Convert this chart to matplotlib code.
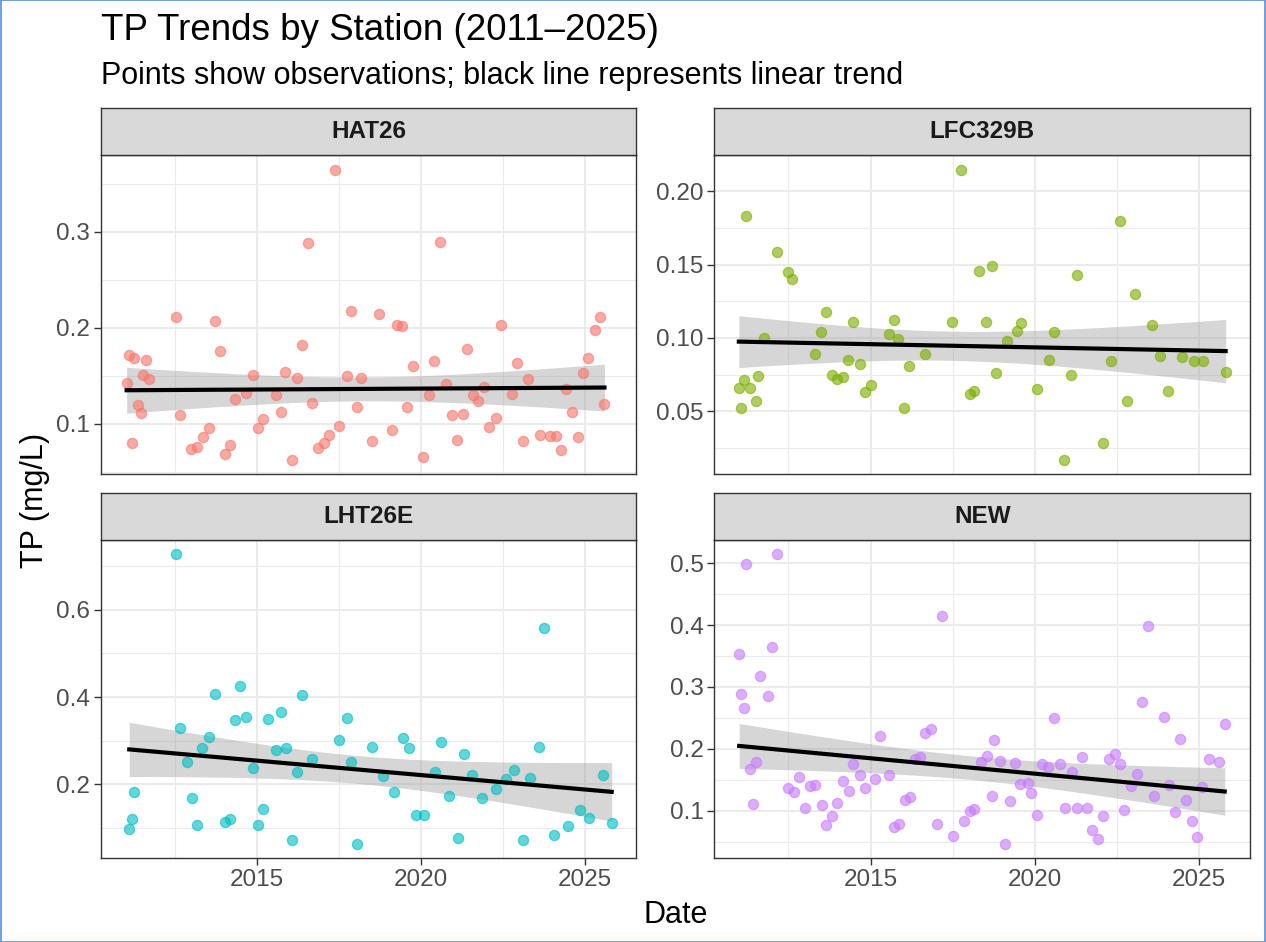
import numpy as np
import matplotlib
matplotlib.use("Agg")
import matplotlib.pyplot as plt
from matplotlib.ticker import MultipleLocator, FormatStrFormatter
from matplotlib.patches import Rectangle

plt.rcParams['font.family'] = ['Liberation Sans', 'DejaVu Sans']

# ---------------- data ----------------
stations = ["HAT26", "LFC329B", "LHT26E", "NEW"]
colors = ["#F8766D", "#7CAE00", "#00BFC4", "#C77CFF"]

hat26_year = [2017.37, 2016.55, 2012.52, 2013.71, 2017.86, 2016.36, 2013.86, 2011.11, 2011.24, 2011.62,
              2011.52, 2011.70, 2011.03, 2014.87, 2015.87, 2016.22, 2017.76, 2018.18, 2014.34, 2014.68,
              2015.58, 2016.69, 2011.37, 2011.46, 2012.66, 2015.74, 2018.05, 2015.18, 2015.02, 2013.54,
              2013.35, 2017.50, 2017.19, 2017.05, 2016.87, 2011.19, 2012.98, 2013.18, 2014.19, 2014.02,
              2016.06, 2018.50,
              2020.58, 2018.72, 2019.27, 2019.42, 2022.45, 2025.45, 2025.30, 2021.41, 2022.93, 2025.10,
              2019.77, 2020.41, 2024.93, 2023.25, 2020.76, 2021.91, 2020.24, 2021.59, 2021.75, 2022.76,
              2024.42, 2019.58, 2020.93, 2021.29, 2022.27, 2022.08, 2024.61, 2025.59, 2019.11, 2021.11,
              2023.10, 2023.62, 2023.94, 2024.12, 2024.78, 2024.26, 2020.07]
hat26_tp = [0.365, 0.288, 0.211, 0.207, 0.218, 0.182, 0.176, 0.172, 0.169, 0.167,
            0.151, 0.147, 0.143, 0.151, 0.154, 0.148, 0.150, 0.148, 0.126, 0.132,
            0.130, 0.122, 0.120, 0.111, 0.109, 0.112, 0.118, 0.105, 0.096, 0.096,
            0.086, 0.098, 0.089, 0.080, 0.075, 0.080, 0.074, 0.076, 0.078, 0.069,
            0.063, 0.082,
            0.290, 0.215, 0.203, 0.202, 0.203, 0.211, 0.198, 0.178, 0.164, 0.169,
            0.160, 0.166, 0.153, 0.147, 0.142, 0.138, 0.130, 0.130, 0.124, 0.131,
            0.136, 0.118, 0.109, 0.110, 0.106, 0.097, 0.112, 0.121, 0.094, 0.083,
            0.082, 0.089, 0.087, 0.087, 0.086, 0.073, 0.066]

lfc329b_year = [2017.74, 2011.20, 2012.16, 2012.49, 2012.62, 2018.30, 2013.65, 2014.47, 2015.70, 2017.48,
                2013.50, 2015.56, 2011.76, 2015.85, 2013.32, 2016.66, 2014.31, 2014.67, 2016.18, 2011.14,
                2010.99, 2011.34, 2011.58, 2013.83, 2013.98, 2014.17, 2015.00, 2014.82, 2011.50, 2011.07,
                2016.03, 2018.02, 2018.16,
                2022.58, 2018.69, 2021.28, 2023.06, 2018.52, 2019.59, 2019.45, 2023.56, 2020.59, 2019.16,
                2020.42, 2022.31, 2023.80, 2024.47, 2024.85, 2025.12, 2025.81, 2018.83, 2021.11, 2020.08,
                2024.04, 2022.81, 2022.09, 2020.89]
lfc329b_tp = [0.215, 0.183, 0.159, 0.145, 0.140, 0.146, 0.118, 0.111, 0.112, 0.111,
              0.104, 0.103, 0.100, 0.099, 0.089, 0.089, 0.085, 0.082, 0.081, 0.071,
              0.066, 0.066, 0.074, 0.075, 0.072, 0.073, 0.068, 0.063, 0.057, 0.052,
              0.052, 0.062, 0.064,
              0.180, 0.149, 0.143, 0.130, 0.111, 0.110, 0.105, 0.109, 0.104, 0.098,
              0.085, 0.084, 0.088, 0.087, 0.084, 0.084, 0.077, 0.076, 0.075, 0.065,
              0.064, 0.057, 0.028, 0.017]

lht26e_year = [2012.52, 2014.49, 2013.71, 2016.36, 2015.74, 2014.34, 2014.68, 2015.33, 2017.76, 2012.66,
               2013.54, 2017.50, 2013.33, 2015.58, 2015.88, 2018.50, 2012.86, 2016.69, 2017.86, 2014.87,
               2016.22, 2011.24, 2013.01, 2015.18, 2011.19, 2011.11, 2013.18, 2014.02, 2014.19, 2015.02,
               2016.06, 2018.05,
               2023.76, 2019.45, 2019.63, 2020.61, 2021.30, 2023.59, 2018.84, 2020.43, 2021.56, 2022.83,
               2022.59, 2023.33, 2025.55, 2019.17, 2020.86, 2021.86, 2022.30, 2019.85, 2020.10, 2024.84,
               2025.11, 2024.48, 2025.81, 2024.04, 2021.12, 2023.10]
lht26e_tp = [0.727, 0.426, 0.408, 0.405, 0.366, 0.348, 0.354, 0.350, 0.351, 0.328,
             0.309, 0.302, 0.282, 0.279, 0.284, 0.286, 0.252, 0.258, 0.250, 0.238,
             0.229, 0.183, 0.168, 0.144, 0.121, 0.098, 0.107, 0.113, 0.121, 0.106,
             0.073, 0.064,
             0.558, 0.306, 0.282, 0.297, 0.269, 0.285, 0.219, 0.227, 0.221, 0.233,
             0.212, 0.214, 0.221, 0.183, 0.172, 0.168, 0.189, 0.130, 0.130, 0.141,
             0.122, 0.105, 0.111, 0.083, 0.077, 0.071]

new_year = [2012.16, 2011.22, 2017.17, 2011.00, 2012.01, 2011.64, 2011.07, 2011.88, 2011.14, 2015.30,
            2016.67, 2016.84, 2011.50, 2011.34, 2014.47, 2016.34, 2016.52, 2012.81, 2014.67, 2015.56,
            2015.14, 2014.17, 2012.49, 2012.67, 2013.15, 2013.32, 2014.33, 2014.83, 2011.43, 2012.99,
            2013.52, 2013.99, 2016.05, 2016.21, 2013.84, 2013.64, 2015.71, 2015.86, 2017.01, 2017.50,
            2017.84, 2018.04, 2018.16,
            2023.44, 2023.25, 2023.94, 2020.57, 2025.78, 2018.77, 2024.42, 2018.53, 2018.37, 2018.95,
            2019.41, 2021.43, 2022.44, 2022.26, 2022.60, 2025.29, 2025.60, 2020.22, 2020.39, 2020.78,
            2021.13, 2023.10, 2019.56, 2019.78, 2019.88, 2022.92, 2024.10, 2025.08, 2018.69, 2019.25,
            2023.62, 2024.60, 2020.93, 2021.27, 2021.60, 2020.07, 2022.07, 2022.73, 2024.26, 2024.78,
            2021.75, 2021.91, 2024.93, 2019.10]
new_tp = [0.514, 0.498, 0.415, 0.354, 0.365, 0.318, 0.289, 0.286, 0.266, 0.220,
          0.226, 0.232, 0.179, 0.168, 0.175, 0.184, 0.186, 0.155, 0.157, 0.157,
          0.151, 0.148, 0.137, 0.130, 0.140, 0.142, 0.132, 0.136, 0.111, 0.104,
          0.109, 0.113, 0.117, 0.122, 0.092, 0.077, 0.074, 0.078, 0.078, 0.059,
          0.083, 0.100, 0.103,
          0.399, 0.275, 0.252, 0.250, 0.240, 0.215, 0.216, 0.189, 0.178, 0.180,
          0.177, 0.187, 0.192, 0.183, 0.176, 0.184, 0.179, 0.175, 0.170, 0.175,
          0.163, 0.160, 0.143, 0.145, 0.129, 0.140, 0.141, 0.139, 0.123, 0.116,
          0.123, 0.117, 0.104, 0.105, 0.105, 0.093, 0.092, 0.101, 0.098, 0.083,
          0.069, 0.055, 0.058, 0.047]

x_ticks = [2015, 2020, 2025]
y_major = [0.1, 0.05, 0.2, 0.1]
y_minor = [0.05, 0.025, 0.1, 0.05]
y_fmt = ["%.1f", "%.2f", "%.1f", "%.1f"]

years = [hat26_year, lfc329b_year, lht26e_year, new_year]
values = [hat26_tp, lfc329b_tp, lht26e_tp, new_tp]

# ---------------- layout ----------------
W, H = 1266, 942
fig = plt.figure(figsize=(W / 100, H / 100), dpi=100)
fig.patch.set_facecolor("white")

def fx(p):
    return p / W

def fy(p):
    return 1 - p / H

cols = [(101, 636), (714.5, 1250)]
rows = [(108, 155, 474), (493, 540, 858)]

border = "#333333"
grid_c = "#EBEBEB"
tick_c = "#4D4D4D"

all_years = np.concatenate([np.asarray(y) for y in years])
xr = all_years.max() - all_years.min()
xlim = (all_years.min() - 0.05 * xr, all_years.max() + 0.05 * xr)

for i, st in enumerate(stations):
    r, c = divmod(i, 2)
    x0, x1 = cols[c]
    st_top, p_top, p_bot = rows[r]
    ax = fig.add_axes([fx(x0), fy(p_bot), fx(x1 - x0), (p_bot - p_top) / H])
    sax = fig.add_axes([fx(x0), fy(p_top), fx(x1 - x0), (p_top - st_top) / H])

    xd = np.asarray(years[i])
    yd = np.asarray(values[i])

    # linear fit with 95% confidence band
    n = len(xd)
    b, a = np.polyfit(xd, yd, 1)
    resid = yd - (a + b * xd)
    s2 = np.sum(resid ** 2) / (n - 2)
    xbar = xd.mean()
    sxx = np.sum((xd - xbar) ** 2)
    xs = np.linspace(xd.min(), xd.max(), 80)
    ys = a + b * xs
    se = np.sqrt(s2 * (1.0 / n + (xs - xbar) ** 2 / sxx))
    tq = 1.99
    ax.fill_between(xs, ys - tq * se, ys + tq * se, color="#999999", alpha=0.4,
                    linewidth=0, zorder=2)
    ax.scatter(xd, yd, s=54, color=colors[i], alpha=0.62, edgecolors=colors[i],
               linewidths=0.9, zorder=3)
    ax.plot(xs, ys, color="black", linewidth=3.0, zorder=4)

    ax.set_xlim(*xlim)
    yr = yd.max() - yd.min()
    ax.set_ylim(yd.min() - 0.05 * yr, yd.max() + 0.05 * yr)

    ax.xaxis.set_major_locator(matplotlib.ticker.FixedLocator(x_ticks))
    ax.xaxis.set_minor_locator(matplotlib.ticker.FixedLocator([2012.5, 2017.5, 2022.5]))
    ax.yaxis.set_major_locator(MultipleLocator(y_major[i]))
    ax.yaxis.set_minor_locator(MultipleLocator(y_minor[i]))
    ax.yaxis.set_major_formatter(FormatStrFormatter(y_fmt[i]))

    ax.grid(True, which="major", color=grid_c, linewidth=1.5, zorder=0)
    ax.grid(True, which="minor", color=grid_c, linewidth=0.8, zorder=0)
    ax.set_axisbelow(True)

    ax.tick_params(axis="both", which="major", length=5, width=1.0, color=border,
                   labelsize=17.5, labelcolor=tick_c, pad=3)
    ax.tick_params(axis="both", which="minor", length=0)
    if r == 0:
        ax.tick_params(axis="x", which="both", length=0, labelbottom=False)
    for sp in ax.spines.values():
        sp.set_color(border)
        sp.set_linewidth(1.0)

    sax.set_facecolor("#D9D9D9")
    sax.set_xticks([])
    sax.set_yticks([])
    for sp in sax.spines.values():
        sp.set_color(border)
        sp.set_linewidth(1.0)
    sax.text(0.5, 0.5, st, ha="center", va="center", fontsize=17.5, fontweight="bold",
             color="#1A1A1A", transform=sax.transAxes)

fig.text(fx(101), fy(31), "TP Trends by Station (2011\u20132025)", ha="left", va="center",
         fontsize=26.5, color="black")
fig.text(fx(101), fy(76), "Points show observations; black line represents linear trend",
         ha="left", va="center", fontsize=22, color="black")
fig.text(fx(675.5), fy(915), "Date", ha="center", va="center", fontsize=22, color="black")
fig.text(fx(35), fy(500), "TP (mg/L)", ha="center", va="center", rotation=90,
         fontsize=22, color="black")

fig.add_artist(Rectangle((0.0005, 0.0005), 0.999, 0.999, transform=fig.transFigure,
                         fill=False, edgecolor="#5B8BDB", linewidth=1.2))

fig.savefig("out.png", dpi=100, facecolor="white")
